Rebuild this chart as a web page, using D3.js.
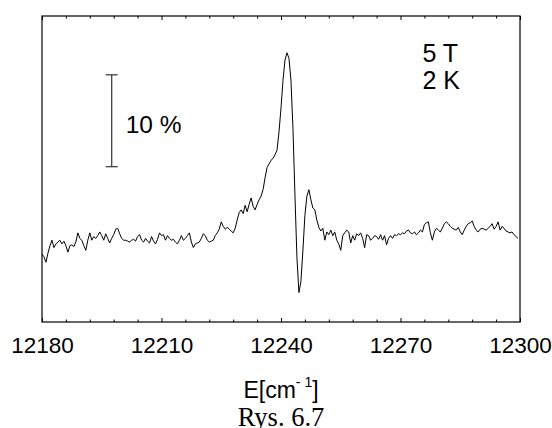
<!DOCTYPE html>
<html>
<head>
<meta charset="utf-8">
<script src="https://cdn.jsdelivr.net/npm/d3@7"></script>
<style>
body { margin: 0; background: #fff; }
svg { display: block; }
</style>
</head>
<body>
<script>
// energy grid of the scan [cm-1], one reading every 0.5 cm-1
var energyStart = 12180, energyEnd = 12300, energyStep = 0.5;
var energy = d3.range(energyStart, energyEnd + energyStep / 2, energyStep);

// signal [%] (baseline ~ 0)
var signal = [
 -1.2,-1.5,-2.1,-1.1,-0.3,0.3,-0.5,-0.1,0.1,0.3,-0.1,0.2,-0.3,-1.0,-0.3,-0.2,-0.4,0.1,1.1,0.5,
 0.3,-0.3,-0.8,0.3,1.1,0.3,0.7,0.5,0.8,1.2,0.8,0.3,1.0,0.5,0,0.5,0.9,1.5,1.6,1.0,
 0.5,0.3,0.3,0.2,0.1,0.3,0.4,0.2,0.7,0.9,0.3,0.1,0.5,0.2,0,0.7,0.2,-0.1,0.4,1.1,
 0.8,0.9,0.3,0.8,0.5,0.3,0.4,0.1,-0.1,0.3,0.8,0.3,0.5,0.8,1.1,0.1,-0.5,-0.1,0,0.1,
 0.5,1.0,0.8,0.3,0.1,0.2,0.3,0.8,1.1,1.5,2.3,1.8,1.5,1.7,1.5,1.3,1.1,1.6,2.5,3.3,
 3.6,3.2,4.1,3.4,4.2,4.9,4.0,3.6,4.2,4.7,5.1,5.8,7.1,8.2,8.6,9.0,9.2,9.6,10.1,12.1,
 14.7,17.7,19.9,20.7,20.1,17.7,12.5,5.2,-1.6,-5.4,-4.2,-0.8,3.0,5.1,5.8,4.7,3.8,3.6,2.5,1.7,
 1.3,1.6,0.3,1.2,0.9,1.4,0.8,1.2,0.3,-0.1,-0.8,0.8,1.1,1.4,1.2,0,0.8,0.3,1.0,0.8,
 1.1,0.5,-0.5,0.9,0.8,0.3,0.5,0.8,0.7,0.4,0.9,0.3,0.8,-0.2,0.5,0.8,0.5,0.9,0.8,1.0,
 0.9,1.1,1.0,1.3,1.4,1.1,1.0,1.2,0.9,1.1,1.4,1.2,2.0,2.2,2.3,1.1,0.3,1.2,1.6,1.4,
 1.2,1.6,2.1,2.3,2.1,1.8,1.6,1.5,1.4,1.7,1.2,0.9,1.4,1.8,2.1,2.2,2.4,1.8,1.4,1.2,
 1.5,1.6,1.5,1.4,1.6,1.8,2.1,1.5,1.8,2.3,1.4,1.8,1.6,1.3,1.2,1.1,1.2,0.9,0.7,0.5
];

var xTicks = d3.range(12180, 12301, 6);
var xLabels = [12180, 12210, 12240, 12270, 12300];
var yDomain = [-8.6, 24.7];

// scale bar of 10 % and condition labels
var barEnergy = 12197.5, barFrom = 8.3, barTo = 18.3, barText = "10 %";
var conditions = ["5 T", "2 K"];

var W = 552, H = 428;
var margin = {left: 42, right: 32, top: 16, bottom: 106};

var svg = d3.select("body").append("svg")
	.attr("width", W)
	.attr("height", H)
	.style("font-family", "'Liberation Sans', Arial, Helvetica, sans-serif");

var x = d3.scaleLinear().domain([energyStart, energyEnd]).range([margin.left, W - margin.right]);
var y = d3.scaleLinear().domain(yDomain).range([H - margin.bottom, margin.top]);

var isMajor = function (d) { return xLabels.indexOf(d) >= 0; };

// bottom axis, ticks pointing inward
var bottomAxis = svg.append("g")
	.attr("transform", "translate(0," + (H - margin.bottom) + ")")
	.call(d3.axisBottom(x).tickValues(xTicks).tickSizeInner(-3).tickSizeOuter(0)
		.tickFormat(function (d) { return isMajor(d) ? d : ""; }));
bottomAxis.select(".domain").remove();
bottomAxis.selectAll(".tick line").attr("y2", function (d) { return isMajor(d) ? -4 : -2.5; })
	.attr("stroke", "#000");
bottomAxis.selectAll(".tick text")
	.attr("y", 31)
	.attr("dy", 0)
	.attr("font-size", 22.5)
	.attr("font-family", "'Liberation Sans', Arial, sans-serif")
	.attr("fill", "#000");

// top axis, ticks pointing inward
var topAxis = svg.append("g")
	.attr("transform", "translate(0," + margin.top + ")")
	.call(d3.axisTop(x).tickValues(xTicks).tickSizeInner(-3).tickSizeOuter(0).tickFormat(""));
topAxis.select(".domain").remove();
topAxis.selectAll(".tick line").attr("y2", function (d) { return isMajor(d) ? 4 : 2.5; })
	.attr("stroke", "#000");

// frame
svg.append("rect")
	.attr("x", x(energyStart))
	.attr("y", y(yDomain[1]))
	.attr("width", x(energyEnd) - x(energyStart))
	.attr("height", y(yDomain[0]) - y(yDomain[1]))
	.attr("fill", "none")
	.attr("stroke", "#000")
	.attr("stroke-width", 1.2);

// spectrum
var line = d3.line()
	.x(function (d, i) { return x(energy[i]); })
	.y(function (d) { return y(d); });

svg.append("path")
	.datum(signal)
	.attr("d", line)
	.attr("fill", "none")
	.attr("stroke", "#000")
	.attr("stroke-width", 1)
	.attr("stroke-linejoin", "round");

// 10 % scale bar
var bx = x(barEnergy);
var bar = svg.append("g").attr("stroke", "#333").attr("stroke-width", 1.2);
bar.append("line").attr("x1", bx).attr("x2", bx).attr("y1", y(barTo)).attr("y2", y(barFrom));
bar.append("line").attr("x1", bx - 6).attr("x2", bx + 6).attr("y1", y(barTo)).attr("y2", y(barTo));
bar.append("line").attr("x1", bx - 6).attr("x2", bx + 6).attr("y1", y(barFrom)).attr("y2", y(barFrom));

svg.append("text")
	.attr("x", bx + 14)
	.attr("y", y((barFrom + barTo) / 2) + 12)
	.attr("font-size", 24.5)
	.text(barText);

// field / temperature
svg.selectAll(".cond")
	.data(conditions)
	.enter().append("text")
	.attr("class", "cond")
	.attr("x", x(12275.5))
	.attr("y", function (d, i) { return 62 + i * 27; })
	.attr("font-size", 25)
	.text(function (d) { return d; });

// axis title
var title = svg.append("text")
	.attr("x", x(12240))
	.attr("y", 398)
	.attr("text-anchor", "middle")
	.attr("font-size", 23);
title.append("tspan").text("E[cm");
title.append("tspan").attr("dy", -11).attr("font-size", 14).text("- 1");
title.append("tspan").attr("dy", 11).text("]");

// caption
svg.append("text")
	.attr("x", x(12240))
	.attr("y", 426)
	.attr("text-anchor", "middle")
	.attr("font-family", "'Liberation Serif', 'Times New Roman', serif")
	.attr("font-size", 26.5)
	.text("Rys. 6.7");
</script>
</body>
</html>
